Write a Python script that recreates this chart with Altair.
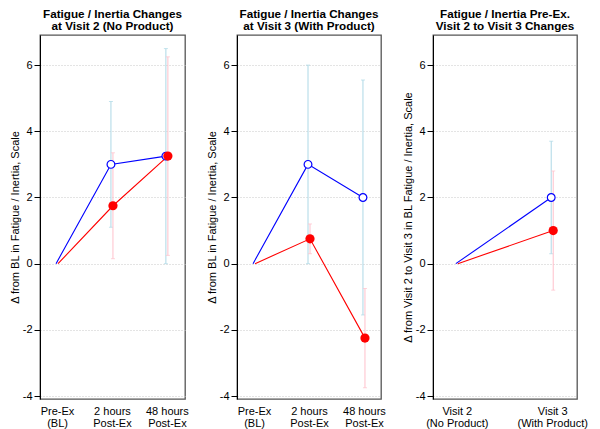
import json
import altair as alt
import pandas as pd

FONT = "Liberation Sans"
Y_DOMAIN = [-4.09, 6.91]
Y_TICKS = [-4, -2, 0, 2, 4, 6]

# Panel 1: Visit 2 (No Product)
p1_title = ["Fatigue / Inertia Changes", "at Visit 2 (No Product)"]
p1_ytitle = "\u0394 from BL in Fatigue / Inertia, Scale"
p1_labels = [["Pre-Ex", "(BL)"], ["2 hours", "Post-Ex"], ["48 hours", "Post-Ex"]]
p1_blue = [0, 3.0, 3.25]
p1_blue_err = [0, 1.9, 3.25]
p1_red = [0, 1.75, 3.25]
p1_red_err = [0, 1.6, 3.0]

# Panel 2: Visit 3 (With Product)
p2_title = ["Fatigue / Inertia Changes", "at Visit 3 (With Product)"]
p2_ytitle = "\u0394 from BL in Fatigue / Inertia, Scale"
p2_labels = [["Pre-Ex", "(BL)"], ["2 hours", "Post-Ex"], ["48 hours", "Post-Ex"]]
p2_blue = [0, 3.0, 2.0]
p2_blue_err = [0, 3.0, 3.55]
p2_red = [0, 0.75, -2.25]
p2_red_err = [0, 0.45, 1.5]

# Panel 3: Pre-Ex Visit 2 -> Visit 3
p3_title = ["Fatigue / Inertia Pre-Ex.", "Visit 2 to Visit 3 Changes"]
p3_ytitle = "\u0394 from Visit 2 to Visit 3 in BL Fatigue / Inertia, Scale"
p3_labels = [["Visit 2", "(No Product)"], ["Visit 3", "(With Product)"]]
p3_blue = [0, 2.0]
p3_blue_err = [0, 1.7]
p3_red = [0, 1.0]
p3_red_err = [0, 1.8]


def make_df(values, errs):
    rows = []
    for i, (v, e) in enumerate(zip(values, errs)):
        rows.append({"pos": i + 1, "value": v, "lo": v - e, "hi": v + e,
                     "baseline": i == 0})
    return pd.DataFrame(rows)


def panel(title, ytitle, labels, blue, blue_err, red, red_err, xdomain, width):
    yaxis = alt.Axis(values=Y_TICKS, grid=True, gridDash=[1, 2], gridColor="#c8c8c8",
                     gridWidth=1, domain=True, domainColor="#000000", domainWidth=1,
                     tickSize=6, tickColor="#000000", labelFontSize=11, labelFont=FONT,
                     labelColor="#000000", labelPadding=2, titleFont=FONT,
                     labelExpr="datum.value < 0 ? '-' + abs(datum.value) : '' + datum.value",
                     titleFontSize=11, titleFontWeight="normal", titleColor="#000000",
                     titlePadding=2)
    label_expr = json.dumps(labels) + "[datum.value - 1]"
    xaxis = alt.Axis(values=list(range(1, len(labels) + 1)), labelExpr=label_expr,
                     ticks=False, domain=False, grid=False, labelPadding=6,
                     labelLineHeight=12.5, labelFontSize=11, labelFont=FONT,
                     labelColor="#000000", labelFlush=False, labelOverlap=False,
                     labelBound=False, title=None)
    xs = alt.Scale(domain=xdomain, nice=False, zero=False)
    ys = alt.Scale(domain=Y_DOMAIN, nice=False, zero=False)

    def X():
        return alt.X("pos:Q", scale=xs, axis=xaxis)

    def Y(field):
        return alt.Y(field + ":Q", scale=ys, axis=yaxis, title=ytitle)

    layers = []
    series = [
        (make_df(blue, blue_err), "#0000ff", "#add8e6", -1, "open"),
        (make_df(red, red_err), "#ff0000", "#ffc0cb", 1, "filled"),
    ]
    # error bars
    for df, lc, ec, off, _ in series:
        sub = df[~df["baseline"]]
        base = alt.Chart(sub)
        layers.append(base.mark_rule(color=ec, strokeWidth=1, xOffset=off).encode(
            x=X(), y=Y("lo"), y2="hi"))
        layers.append(base.mark_tick(color=ec, orient="horizontal", size=4,
                                     thickness=1, xOffset=off).encode(x=X(), y=Y("lo")))
        layers.append(base.mark_tick(color=ec, orient="horizontal", size=4,
                                     thickness=1, xOffset=off).encode(x=X(), y=Y("hi")))
    # lines
    for df, lc, ec, off, _ in series:
        layers.append(alt.Chart(df).mark_line(color=lc, strokeWidth=1.1, xOffset=off)
                      .encode(x=X(), y=Y("value")))
    # points
    for df, lc, ec, off, kind in series:
        sub = df[~df["baseline"]]
        if kind == "open":
            mk = alt.Chart(sub).mark_point(shape="circle", filled=False, fill="#ffffff",
                                           stroke=lc, strokeWidth=1.2, size=60,
                                           opacity=1, fillOpacity=1, xOffset=off)
        else:
            mk = alt.Chart(sub).mark_circle(color=lc, size=85, opacity=1, xOffset=off)
        layers.append(mk.encode(x=X(), y=Y("value")))

    return alt.layer(*layers).properties(
        width=width, height=364,
        title=alt.TitleParams(text=title, font=FONT, fontSize=11.7, fontWeight="bold",
                              color="#000000", lineHeight=12.5, anchor="middle",
                              frame="group", offset=2),
    )


c1 = panel(p1_title, p1_ytitle, p1_labels, p1_blue, p1_blue_err, p1_red, p1_red_err,
           [0.69, 3.33], 145)
c2 = panel(p2_title, p2_ytitle, p2_labels, p2_blue, p2_blue_err, p2_red, p2_red_err,
           [0.69, 3.31], 144)
c3 = panel(p3_title, p3_ytitle, p3_labels, p3_blue, p3_blue_err, p3_red, p3_red_err,
           [0.75, 2.26], 144)

chart = alt.hconcat(c1, c2, c3, spacing=52).properties(
    bounds="flush",
    padding={"left": 0, "top": 0, "right": 0, "bottom": 0},
    background="#ffffff",
).configure_view(stroke="#555555", strokeWidth=1.3)

chart.save("out.html", embed_options={"renderer": "svg", "actions": False})
